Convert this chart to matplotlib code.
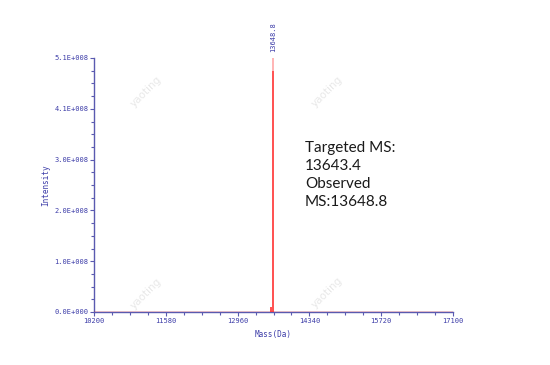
import numpy as np
import matplotlib.pyplot as plt
from matplotlib.ticker import AutoMinorLocator

# Spectrum data
peak_mass = [13595.0, 13648.8]
peak_int = [1.0e7, 4.82e8]
peak_top = 5.08e8  # pale tip of the main peak
x_ticks = [10200, 11580, 12960, 14340, 15720, 17100]
y_ticks = [0, 1.016e8, 2.032e8, 3.048e8, 4.064e8, 5.08e8]
y_labels = ['0.0E+000', '1.0E+008', '2.0E+008', '3.0E+008', '4.1E+008', '5.1E+008']
note_lines = ['Targeted MS:', '13643.4', 'Observed', 'MS:13648.8']

axis_col = '#5a5ab0'
text_col = '#3c3ca8'
mono = 'DejaVu Sans Mono'

fig = plt.figure(figsize=(5.5, 3.65), dpi=100)
ax = fig.add_axes([94 / 550, 1 - 312 / 365, (453 - 94) / 550, (312 - 58) / 365])

# baseline across the full mass range
ax.plot([x_ticks[0], x_ticks[-1]], [0, 0], color='#e02020', lw=1.0, zorder=3)
# stick peaks
ax.vlines(peak_mass, 0, peak_int, color='#ff2020', lw=1.1, zorder=4)
ax.vlines(peak_mass[1], peak_int[1], peak_top, color='#ffa0a0', lw=1.1, zorder=4)

ax.annotate('13648.8', xy=(peak_mass[1], peak_top), xytext=(0, 4), textcoords='offset points',
            rotation=90, ha='center', va='bottom', fontsize=5.0, family=mono, color=text_col)

ax.set_xlim(x_ticks[0], x_ticks[-1])
ax.set_ylim(0, peak_top)
ax.set_xticks(x_ticks)
ax.set_xticklabels([str(v) for v in x_ticks])
ax.set_yticks(y_ticks)
ax.set_yticklabels(y_labels)
ax.xaxis.set_minor_locator(AutoMinorLocator(4))
ax.yaxis.set_minor_locator(AutoMinorLocator(4))

for side in ['top', 'right']:
    ax.spines[side].set_visible(False)
for side in ['left', 'bottom']:
    ax.spines[side].set_color(axis_col)
    ax.spines[side].set_linewidth(1.0)

ax.tick_params(which='major', direction='out', length=3, width=0.8, color=axis_col,
               labelsize=5.0, labelcolor=text_col, pad=1)
ax.tick_params(which='minor', direction='out', length=2.5, width=0.8, color=axis_col)
for lab in ax.get_xticklabels() + ax.get_yticklabels():
    lab.set_family(mono)

ax.set_xlabel('Mass(Da)', fontsize=5.5, family=mono, color=text_col, labelpad=5)
ax.set_ylabel('Intensity', fontsize=5.5, family=mono, color=text_col, labelpad=3)

# result note
fig.text(305 / 550, 1 - 141 / 365, '\n'.join(note_lines), fontsize=11, family='Lato',
         color='#1a1a1a', ha='left', va='top', linespacing=1.36)

# watermarks
for wx, wy in [(146, 92), (327, 92), (146, 294), (327, 293)]:
    fig.text(wx / 550, 1 - wy / 365, 'yaoting', fontsize=7.5, color='#e8e8e8', rotation=45,
             ha='center', va='center', zorder=0)

fig.savefig('out.png', dpi=100)
